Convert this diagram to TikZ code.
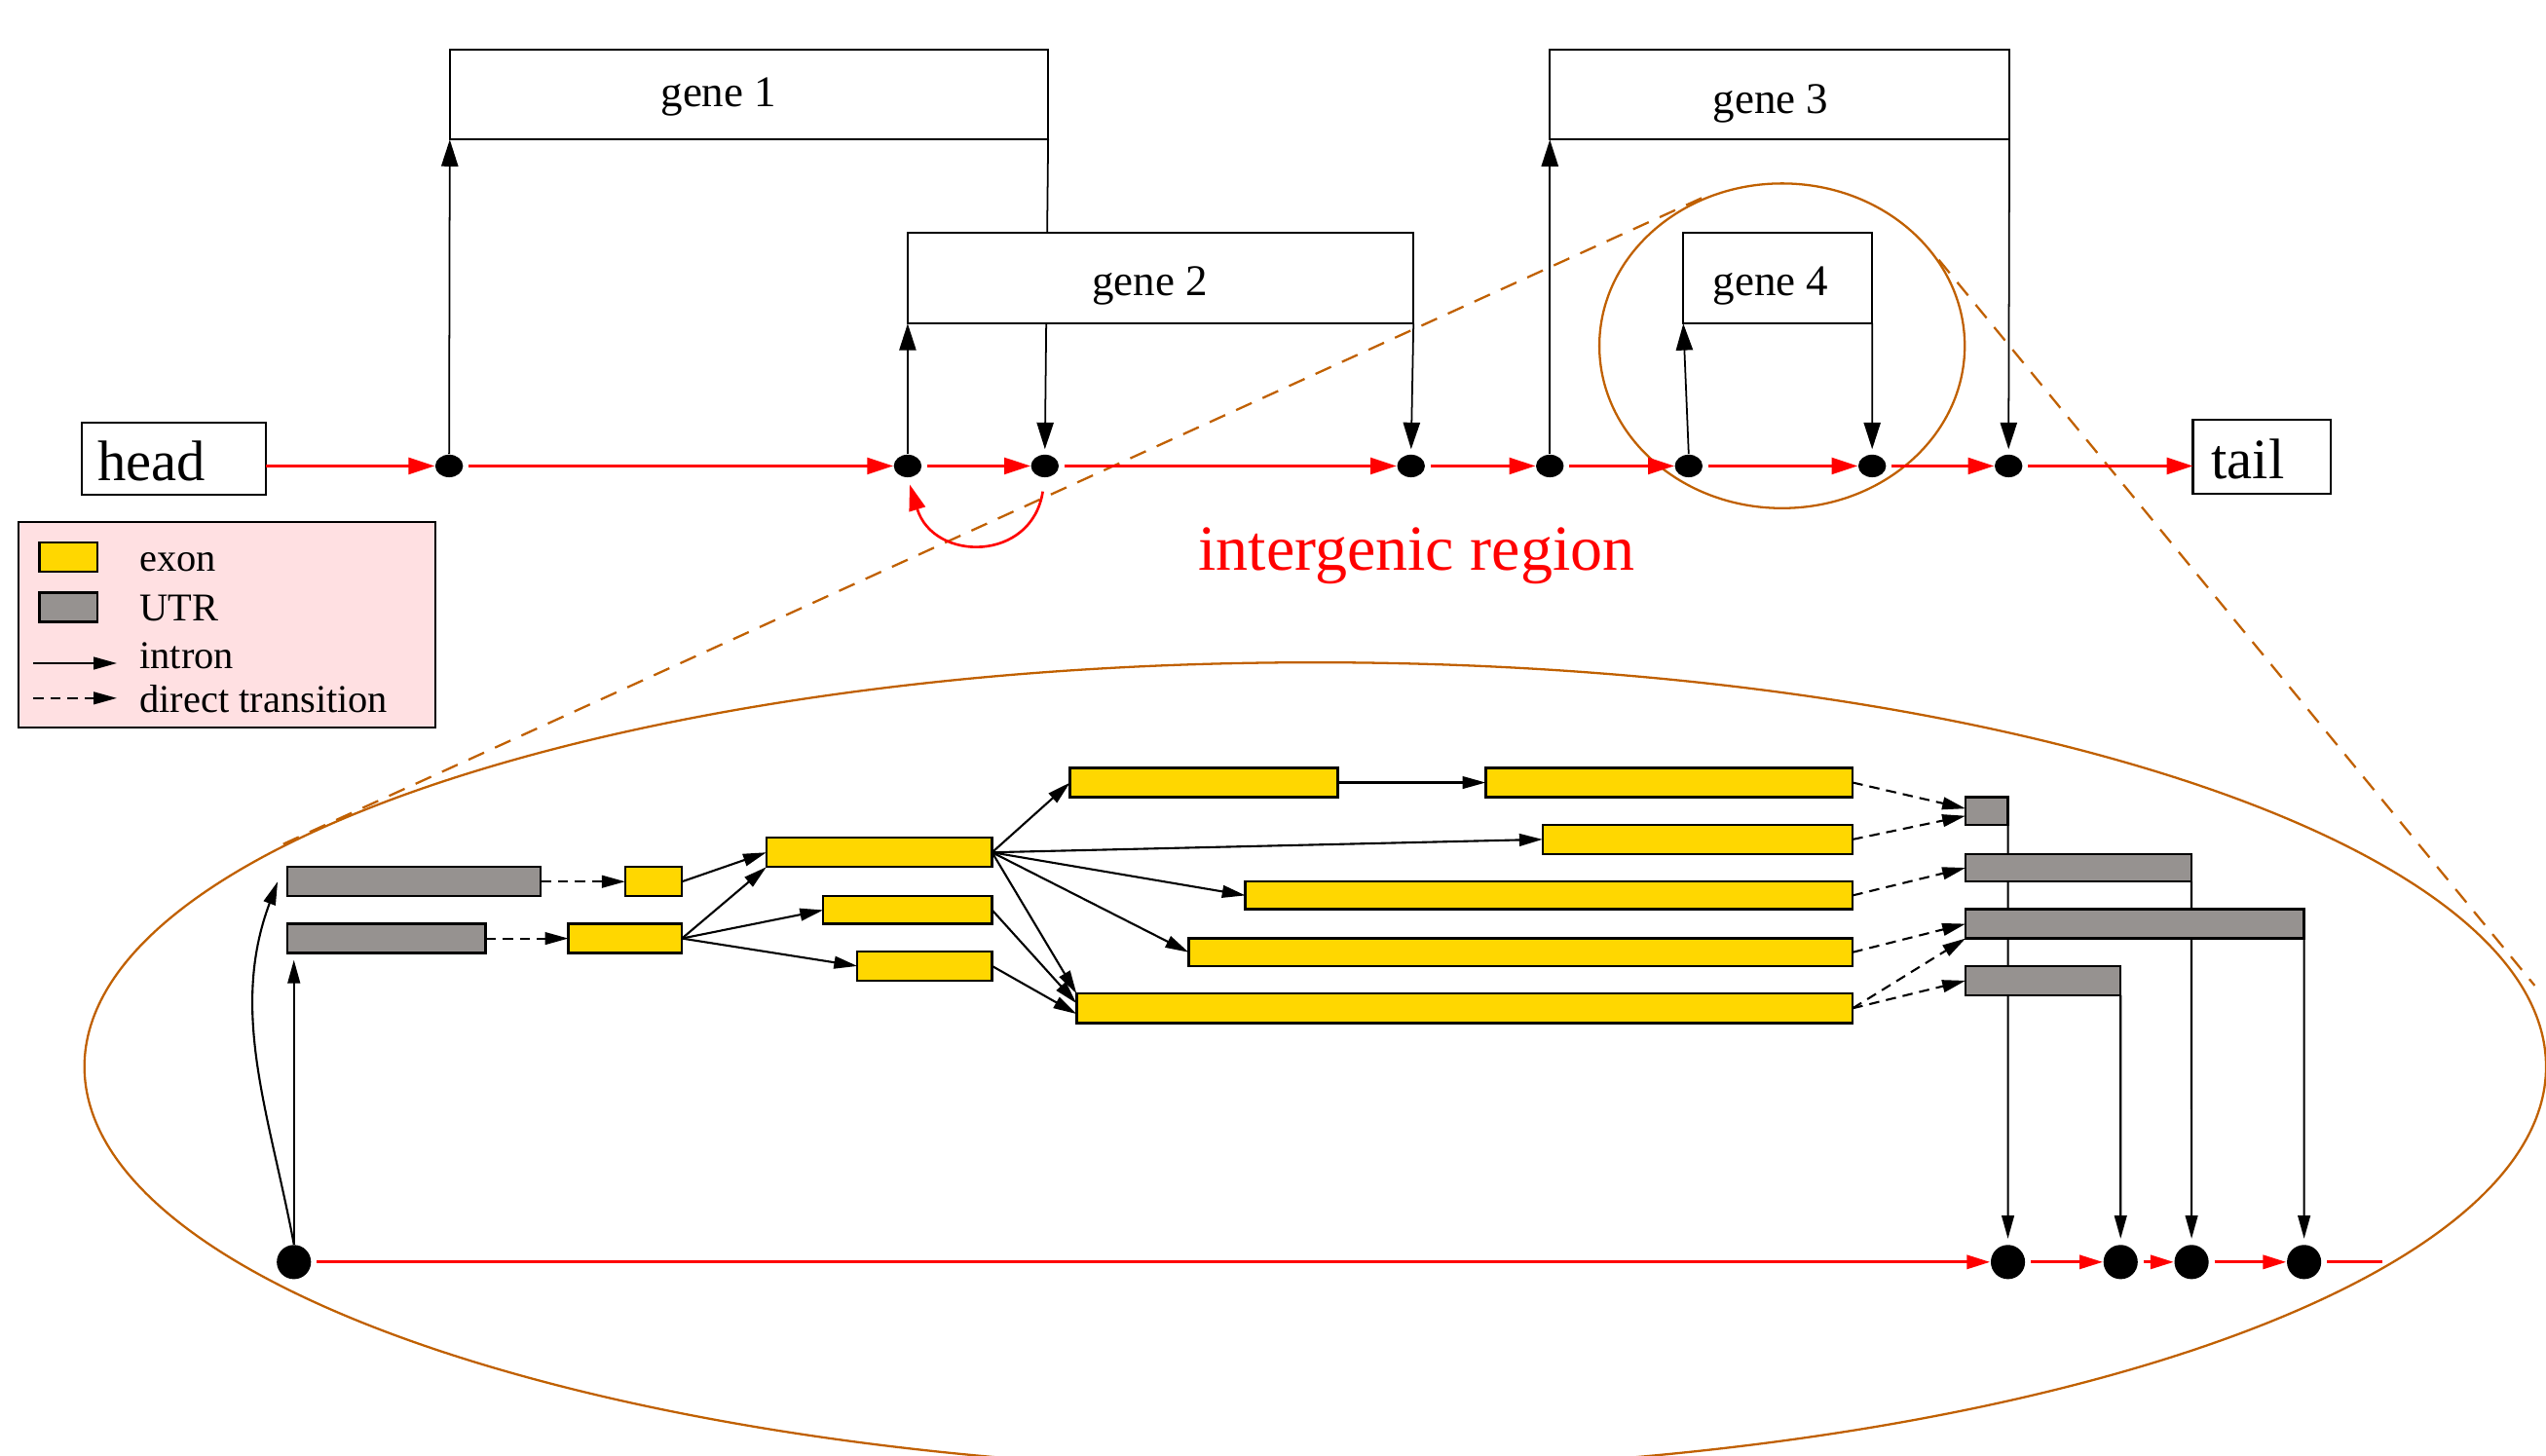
\documentclass[tikz,border=0pt]{standalone}
\usepackage{fontspec}
\setmainfont{Liberation Serif}
\usetikzlibrary{arrows.meta,shapes.geometric,calc,backgrounds}
\definecolor{exonc}{RGB}{255,215,0}
\definecolor{utrc}{RGB}{150,146,144}
\definecolor{orangec}{RGB}{192,96,0}
\definecolor{legc}{RGB}{255,224,226}
\newcommand{\mybox}[6]{\node[#6, minimum width={(#4-#2)*0.016671cm}, minimum height={(#5-#3)*0.016671cm}] (#1) at ({(#2+#4)/2},{(#3+#5)/2}) {};}
\newcommand{\fhead}{\fontsize{16.7}{20}\selectfont}
\newcommand{\fgene}{\fontsize{12.8}{15}\selectfont}
\newcommand{\fleg}{\fontsize{11.5}{14}\selectfont}
\newcommand{\fbig}{\fontsize{18.8}{22}\selectfont}
\tikzset{
 genebox/.style={draw, line width=0.6pt, fill=white, inner sep=0pt, outer sep=0pt},
 exonbox/.style={draw, fill=exonc, line width=0.7pt, inner sep=0pt, outer sep=0pt},
 utrbox/.style={draw, fill=utrc, line width=0.7pt, inner sep=0pt, outer sep=0pt},
 bdot/.style={ellipse, fill=black, minimum width=8.1pt, minimum height=6.6pt, inner sep=0pt},
 bigdot/.style={circle, fill=black, minimum size=10pt, inner sep=0pt},
 redarr/.style={red, line width=0.75pt, -{Triangle[length=7.6pt,width=4.8pt]}},
 redarrs/.style={red, line width=0.85pt, -{Triangle[length=6.8pt,width=4pt]}},
 blkarr/.style={black, line width=0.5pt, -{Triangle[length=7.8pt,width=4.9pt]}},
 inarr/.style={black, line width=0.6pt, -{Triangle[length=6.8pt,width=3.6pt]}},
 dirarr/.style={inarr, dash pattern=on 3pt off 2pt},
 orng/.style={draw=orangec, line width=0.65pt},
 lbl/.style={anchor=base west, inner sep=0pt, outer sep=0pt},
}
\begin{document}
\begin{tikzpicture}[x=0.016671cm, y=-0.016671cm]
\useasboundingbox (0,0) rectangle (1568,896.2);

% magnifier ellipses
\node[ellipse, orng, minimum width=1516*0.016671cm, minimum height=498*0.016671cm, inner sep=0pt] (big) at (810,657) {};
\node[ellipse, orng, minimum width=225*0.016671cm, minimum height=200*0.016671cm, inner sep=0pt] (sm) at (1097.5,213) {};
\draw[orng, dash pattern=on 5pt off 3.5pt] ($(sm.center)+(-49.5,-91)$) -- ($(big.center)+(-638,-136)$);
\draw[orng, dash pattern=on 5pt off 3.5pt] ($(sm.center)+(96.5,-53)$) -- ($(big.center)+(751,-50)$);

% top level boxes
\mybox{head}{50.5}{260.5}{164}{304.5}{genebox}
\node[lbl, font=\fhead] (headt) at (60,296) {head};
\mybox{tail}{1350.5}{258.5}{1435.5}{304}{genebox}
\node[lbl, font=\fhead] (tailt) at (1362,295) {tail};
\mybox{gene1}{277}{30.6}{645.5}{86}{genebox}
\node[lbl, font=\fgene] (g1t) at (407,65.5) {gene 1};
\mybox{gene3}{954.5}{30.6}{1237.5}{86}{genebox}
\node[lbl, font=\fgene] (g3t) at (1055,69.6) {gene 3};

% dots on the main line
\node[bdot] (d1) at (276.6,287) {};
\node[bdot] (d2) at (559,287) {};
\node[bdot] (d3) at (643.5,287) {};
\node[bdot] (d4) at (869,287) {};
\node[bdot] (d5) at (954.5,287) {};
\node[bdot] (d6) at (1040,287) {};
\node[bdot] (d7) at (1153,287) {};
\node[bdot] (d8) at (1237,287) {};

\begin{pgfonlayer}{background}
\draw[blkarr, shorten >=1.4pt] (gene1.south east) -- (d3.north);
\end{pgfonlayer}

\mybox{gene2}{559}{143.5}{870.5}{199.3}{genebox}
\node[lbl, font=\fgene] (g2t) at (672.5,182) {gene 2};
\mybox{gene4}{1036.7}{143.4}{1153}{199.3}{genebox}
\node[lbl, font=\fgene] (g4t) at (1055,182) {gene 4};

% red main line
\draw[redarr] (head.east |- d1.west) -- (d1.west);
\draw[redarr, shorten <=1.5pt] (d1.east) -- (d2.west);
\draw[redarr, shorten <=1.5pt] (d2.east) -- (d3.west);
\draw[redarr, shorten <=1.5pt] (d3.east) -- (d4.west);
\draw[redarr, shorten <=1.5pt] (d4.east) -- (d5.west);
\draw[redarr, shorten <=1.5pt] (d5.east) -- (d6.west);
\draw[redarr, shorten <=1.5pt] (d6.east) -- (d7.west);
\draw[redarr, shorten <=1.5pt] (d7.east) -- (d8.west);
\draw[redarr, shorten <=1.5pt] (d8.east) -- (tail.west |- d8.east);
\draw[redarr, shorten <=4pt, shorten >=2pt] (d3.south) .. controls +(-8,52) and +(16,52) .. (d2.south);

% gene connectors
\draw[blkarr] (d1.north) -- (gene1.south west);
\draw[blkarr] (d2.north) -- (gene2.south west);
\draw[blkarr, shorten >=1.4pt] (gene2.south east) -- (d4.north);
\draw[blkarr] (d5.north) -- (gene3.south west);
\draw[blkarr, shorten >=1.4pt] (gene3.south east) -- (d8.north);
\draw[blkarr] (d6.north) -- (gene4.south west);
\draw[blkarr, shorten >=1.4pt] (gene4.south east) -- (d7.north);

\node[lbl, font=\fbig, text=red] (igr) at (738,351) {intergenic region};

% legend
\mybox{legend}{11.4}{321.6}{268}{448}{draw, fill=legc, line width=0.6pt, inner sep=0pt}
\mybox{lgex}{24.4}{334}{60}{352}{exonbox}
\mybox{lgutr}{24.4}{365}{60}{383}{utrbox}
\coordinate (li1) at (20.6,408.5);
\coordinate (li2) at (72,408.5);
\coordinate (lt1) at (20.6,430);
\coordinate (lt2) at (72,430);
\draw[inarr] (li1) -- (li2);
\draw[dirarr] (lt1) -- (lt2);
\node[lbl, font=\fleg] (lgt1) at (86,352) {exon};
\node[lbl, font=\fleg] (lgt2) at (86,382.7) {UTR};
\node[lbl, font=\fleg] (lgt3) at (86,412) {intron};
\node[lbl, font=\fleg] (lgt4) at (86,439) {direct transition};

% gene structure
\mybox{utrA}{177}{534}{333}{552}{utrbox}
\mybox{utrB}{177}{569}{299}{587}{utrbox}
\mybox{e1}{385}{534}{420}{552}{exonbox}
\mybox{e2}{350}{569}{420}{587}{exonbox}
\mybox{e3}{472}{516}{611}{534}{exonbox}
\mybox{e4}{507}{552}{611}{569}{exonbox}
\mybox{e5}{528}{586}{611}{604}{exonbox}
\mybox{e6}{659}{473}{824}{491}{exonbox}
\mybox{e7}{915}{473}{1141}{491}{exonbox}
\mybox{e8}{950}{508}{1141}{526}{exonbox}
\mybox{e9}{767}{543}{1141}{560}{exonbox}
\mybox{e10}{732}{578}{1141}{595}{exonbox}
\mybox{e11}{663}{612}{1141}{630}{exonbox}
\mybox{u1}{1210.5}{491}{1236.6}{508}{utrbox}
\mybox{u2}{1210.5}{526}{1349.6}{543}{utrbox}
\mybox{u3}{1210.5}{560}{1419}{578}{utrbox}
\mybox{u4}{1210.5}{595}{1306}{613}{utrbox}

\node[bigdot] (ld) at (181,777.3) {};
\node[bigdot] (bA) at (1236.6,777.3) {};
\node[bigdot] (bB) at (1306,777.3) {};
\node[bigdot] (bC) at (1349.7,777.3) {};
\node[bigdot] (bD) at (1419,777.3) {};
\coordinate (rend) at (1467,777.3);

\begin{pgfonlayer}{background}
\draw[inarr, shorten >=1.6pt] (u1.south east) -- (bA.north);
\draw[inarr, shorten >=1.6pt] (u2.south east) -- (bC.north);
\draw[inarr, shorten >=1.6pt] (u3.south east) -- (bD.north);
\draw[inarr, shorten >=1.6pt] (u4.south east) -- (bB.north);
\end{pgfonlayer}

\draw[redarrs, shorten <=1.5pt] (ld.east) -- (bA.west);
\draw[redarrs, shorten <=1.5pt] (bA.east) -- (bB.west);
\draw[redarrs, shorten <=1.5pt] (bB.east) -- (bC.west);
\draw[redarrs, shorten <=1.5pt] (bC.east) -- (bD.west);
\draw[red, line width=0.85pt, shorten <=1.5pt] (bD.east) -- (rend);

\draw[inarr] (ld.north) .. controls +(-15,-80) and +(-30,80) .. ($(utrA.west)+(-6,0)$);
\draw[inarr, shorten >=2pt] (ld.north) -- (ld.north |- utrB.south);

\draw[dirarr] (utrA.east) -- (e1.west);
\draw[dirarr] (utrB.east) -- (e2.west);
\draw[inarr] (e1.east) -- (e3.west);
\draw[inarr] (e2.east) -- (e3.south west);
\draw[inarr] (e2.east) -- (e4.west);
\draw[inarr] (e2.east) -- (e5.west);
\draw[inarr] (e3.east) -- (e6.west);
\draw[inarr] (e3.east) -- (e8.west);
\draw[inarr] (e3.east) -- (e9.west);
\draw[inarr] (e3.east) -- (e10.west);
\draw[inarr] (e3.east) -- (e11.north west);
\draw[inarr] (e4.east) -- ($(e11.west)+(0,-3)$);
\draw[inarr] (e5.east) -- ($(e11.west)+(0,3.5)$);
\draw[inarr] (e6.east) -- (e7.west);
\draw[dirarr] (e7.east) -- ($(u1.west)+(0,-1.5)$);
\draw[dirarr] (e8.east) -- ($(u1.west)+(0,3)$);
\draw[dirarr] (e9.east) -- (u2.west);
\draw[dirarr] (e10.east) -- (u3.west);
\draw[dirarr] (e11.east) -- (u3.south west);
\draw[dirarr] (e11.east) -- (u4.west);
\end{tikzpicture}
\end{document}
